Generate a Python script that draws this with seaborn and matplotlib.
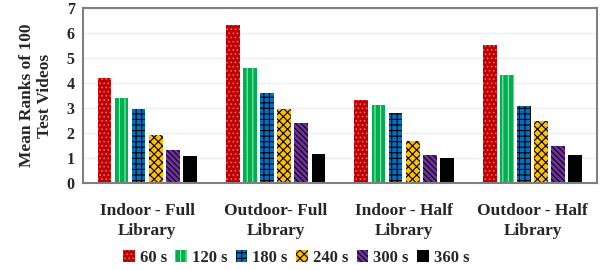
import pandas as pd
import matplotlib
matplotlib.use("Agg")
import matplotlib.pyplot as plt
import seaborn as sns

# data
categories = ["Indoor - Full\nLibrary", "Outdoor- Full\nLibrary",
              "Indoor - Half\nLibrary", "Outdoor - Half\nLibrary"]
durations = ["60 s", "120 s", "180 s", "240 s", "300 s", "360 s"]
v60 = [4.22, 6.32, 3.32, 5.52]
v120 = [3.40, 4.62, 3.12, 4.32]
v180 = [2.96, 3.60, 2.80, 3.08]
v240 = [1.92, 2.96, 1.70, 2.48]
v300 = [1.32, 2.40, 1.12, 1.50]
v360 = [1.08, 1.16, 1.02, 1.12]

colors = ["#C00000", "#00B050", "#0070C0", "#FFC000", "#7030A0", "#000000"]
hatches = ["....", "|||", "+++", "xxxx", "\\\\\\\\\\\\", ""]
hatch_cols = ["#E06060", "#8FE8B4", "#000000", "#000000", "#000000", "#000000"]

rows = []
for d, vals in zip(durations, [v60, v120, v180, v240, v300, v360]):
    for c, v in zip(categories, vals):
        rows.append({"cat": c, "dur": d, "val": v})
df = pd.DataFrame(rows)

sns.set_style("white")
plt.rcParams["font.family"] = ["Liberation Serif", "DejaVu Serif"]
plt.rcParams["font.weight"] = "bold"
plt.rcParams["hatch.linewidth"] = 0.8

fig = plt.figure(figsize=(6.08, 2.70), dpi=100)
ax = fig.add_axes([0.1365, 0.322, 0.845, 0.648])

sns.barplot(data=df, x="cat", y="val", hue="dur", order=categories,
            hue_order=durations, palette=colors, width=0.8, gap=0.2,
            saturation=1, legend=False, ax=ax)

for cont, h, hc in zip(ax.containers, hatches, hatch_cols):
    for p in cont:
        p.set_hatch(h)
        p.set_edgecolor(hc)
        p.set_linewidth(0)

ax.set_ylim(0, 7)
ax.set_yticks(range(8))
ax.yaxis.grid(True, color="#EEEEEE", linewidth=1)
ax.set_axisbelow(True)
for s in ax.spines.values():
    s.set_visible(True)
    s.set_color("#808080")
    s.set_linewidth(1.5)
ax.tick_params(axis="y", length=0, labelsize=11.5, pad=6)
ax.tick_params(axis="x", length=0, labelsize=12.5, pad=14)
for t in ax.get_xticklabels() + ax.get_yticklabels():
    t.set_fontweight("bold")
for t in ax.get_xticklabels():
    t.set_linespacing(1.4)
ax.set_xlabel("")
ax.set_ylabel("Mean Ranks of 100\nTest Videos", fontsize=12.5, fontweight="bold",
              linespacing=1.15, labelpad=10)

handles = [cont[0] for cont in ax.containers]
fig.legend(handles, durations, loc="center", bbox_to_anchor=(0.487, 0.045),
           ncol=6, frameon=False, handlelength=0.7,
           handleheight=0.7, handletextpad=0.3, columnspacing=0.5,
           prop={"weight": "bold", "size": 12})

fig.savefig("out.png", dpi=100)
